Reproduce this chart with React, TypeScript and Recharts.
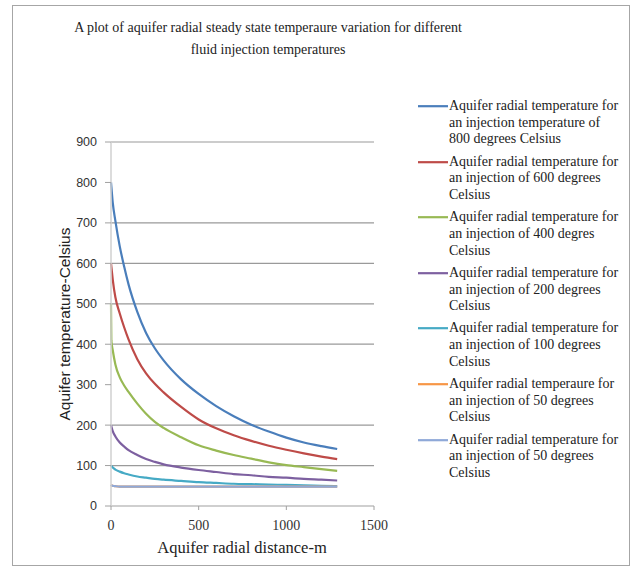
import React from 'react';
import { LineChart, Line, XAxis, YAxis, ReferenceLine } from 'recharts';

const distances = [0, 2, 10, 25, 50, 75, 100, 150, 200, 250, 300, 400, 500, 600, 700, 800, 900, 1000, 1100, 1200, 1290];
const inj800 = [800, 790, 750, 705, 642, 592, 548, 480, 428, 390, 360, 313, 277, 247, 222, 201, 184, 169, 157, 148, 141];
const inj600 = [600, 592, 560, 516, 476, 442, 412, 363, 328, 302, 281, 245, 214, 192, 175, 161, 149, 139, 130, 122, 116];
const inj400 = [500, 410, 385, 350, 318, 298, 282, 253, 228, 208, 193, 170, 150, 137, 126, 117, 108, 101, 96, 91, 87];
const inj200 = [200, 197, 185, 172, 157, 147, 138, 126, 116, 109, 103, 95, 89, 84, 79, 76, 72, 70, 67, 65, 63];
const inj100 = [100, 99, 95, 90, 85, 81, 78, 73, 70, 67, 65, 62, 59, 57, 55, 54, 53, 52, 51, 50, 49];
const inj50a = [52, 51, 50, 49, 48, 48, 48, 48, 48, 48, 48, 48, 48, 48, 48, 48, 48, 48, 48, 48, 48];
const inj50b = [52, 51, 50, 49, 48, 48, 48, 48, 48, 48, 48, 48, 48, 48, 48, 48, 48, 48, 48, 48, 48];

const xTicks = [0, 500, 1000, 1500];
const yTicks = [0, 100, 200, 300, 400, 500, 600, 700, 800, 900];
const gridValues = [100, 200, 400, 500, 600, 700, 900];

const titleLines = [
  'A plot of aquifer radial steady state temperaure variation for different',
  'fluid injection temperatures',
];
const xAxisTitle = 'Aquifer radial distance-m';
const yAxisTitle = 'Aquifer temperature-Celsius';

const series = [
  { key: 's800', values: inj800, color: '#4A7EBB', name: 'Aquifer radial temperature for\nan injection temperature of\n800 degrees Celsius' },
  { key: 's600', values: inj600, color: '#BE4B48', name: 'Aquifer radial temperature for\nan injection of 600 degrees\nCelsius' },
  { key: 's400', values: inj400, color: '#98B954', name: 'Aquifer radial temperature for\nan injection of 400 degres\nCelsius' },
  { key: 's200', values: inj200, color: '#7D60A0', name: 'Aquifer radial temperature for\nan injection of 200 degrees\nCelsius' },
  { key: 's100', values: inj100, color: '#46AAC5', name: 'Aquifer radial temperature for\nan injection of 100 degrees\nCelsius' },
  { key: 's50a', values: inj50a, color: '#F79646', name: 'Aquifer radial temperaure for\nan injection of 50 degrees\nCelsius' },
  { key: 's50b', values: inj50b, color: '#8FA9D8', name: 'Aquifer radial temperature for\nan injection of 50 degrees\nCelsius' },
];

const data = distances.map((d, i) => {
  const row: Record<string, number> = { x: d };
  series.forEach((s) => {
    row[s.key] = s.values[i];
  });
  return row;
});

const serif = '"Liberation Serif", "Times New Roman", serif';
const sans = '"Liberation Sans", Arial, sans-serif';

export default function App() {
  return (
    <div style={{ position: 'absolute', left: 0, top: 0, width: 632, height: 571, background: '#fff' }}>
      <div style={{ position: 'absolute', left: 12, top: 5, width: 616, height: 559, border: '1.5px solid #a6a6a6' }} />
      <div style={{ position: 'absolute', left: 68, top: 17, width: 400, textAlign: 'center', fontFamily: serif, fontSize: 14, lineHeight: '22px', color: '#222' }}>
        {titleLines.map((t) => (
          <div key={t}>{t}</div>
        ))}
      </div>
      <div style={{ position: 'absolute', left: 0, top: 0 }}>
        <LineChart width={632} height={571} data={data} margin={{ top: 142, right: 258, bottom: 25, left: 51 }}>
          {gridValues.map((v) => (
            <ReferenceLine key={v} y={v} stroke="#9a9a9a" strokeWidth={1.2} ifOverflow="visible" />
          ))}
          <XAxis dataKey="x" type="number" domain={[0, 1500]} ticks={xTicks} height={40}
            axisLine={{ stroke: '#a0a0a0', strokeWidth: 1.2 }} tickLine={{ stroke: '#a0a0a0' }} tickSize={4} tickMargin={10}
            tick={{ fontFamily: serif, fontSize: 14, fill: '#333' }} interval={0} />
          <YAxis type="number" domain={[0, 900]} ticks={yTicks} width={60}
            axisLine={{ stroke: '#d0d0d0', strokeWidth: 1.5 }} tickLine={{ stroke: '#a0a0a0' }} tickSize={6} tickMargin={8}
            tick={{ fontFamily: sans, fontSize: 12.5, fill: '#333' }} interval={0} />
          {series.map((s) => (
            <Line key={s.key} dataKey={s.key} type="monotone" stroke={s.color} strokeWidth={2.2} dot={false}
              isAnimationActive={false} name={s.name} />
          ))}
        </LineChart>
      </div>
      <div style={{ position: 'absolute', left: 92, top: 538, width: 300, textAlign: 'center', fontFamily: serif, fontSize: 16.5, lineHeight: '20px', color: '#222' }}>
        {xAxisTitle}
      </div>
      <div style={{ position: 'absolute', left: 65 - 150, top: 324 - 10, width: 300, height: 20, textAlign: 'center', fontFamily: sans, fontSize: 15.5, lineHeight: '20px', color: '#222', transform: 'rotate(-90deg)', transformOrigin: '150px 10px' }}>
        {yAxisTitle}
      </div>
      {series.map((s, i) => (
        <div key={s.key} style={{ position: 'absolute', left: 418, top: 98 + i * 55.6, display: 'flex', alignItems: 'flex-start' }}>
          <svg width={31} height={17} style={{ flex: '0 0 auto' }}>
            <line x1={0} x2={30} y1={8.2} y2={8.2} stroke={s.color} strokeWidth={2.2} />
          </svg>
          <div style={{ whiteSpace: 'pre-line', fontFamily: serif, fontSize: 14, lineHeight: '16.7px', color: '#222' }}>
            {s.name}
          </div>
        </div>
      ))}
    </div>
  );
}
